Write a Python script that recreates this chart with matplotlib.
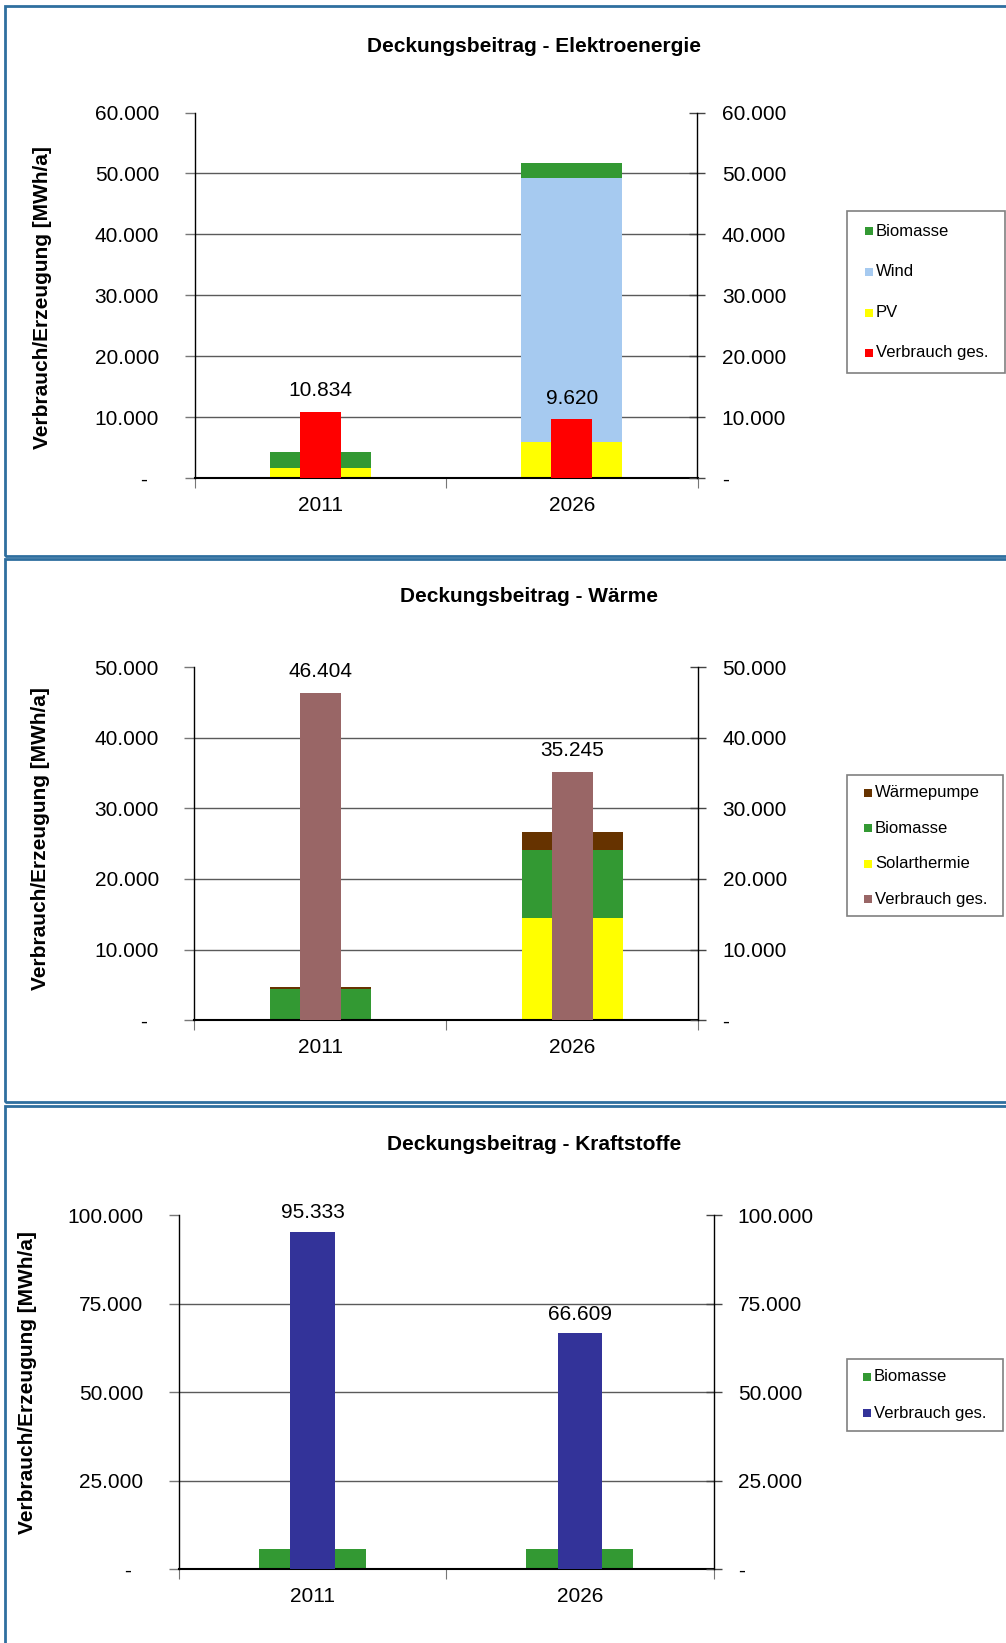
import numpy as np
import matplotlib
matplotlib.use("Agg")
import matplotlib.pyplot as plt
from matplotlib.patches import Rectangle

plt.rcParams['font.family'] = ['Liberation Sans', 'DejaVu Sans']

W, H = 1006, 1643

years = ['2011', '2026']

# Elektroenergie [MWh/a]
strom_pv = [1700, 5900]
strom_wind = [0, 43400]
strom_bio = [2500, 2400]
strom_verbrauch = [10834, 9620]

# Waerme [MWh/a]
waerme_solar = [0, 14400]
waerme_bio = [4400, 9700]
waerme_wp = [240, 2500]
waerme_verbrauch = [46404, 35245]

# Kraftstoffe [MWh/a]
kraft_bio = [5600, 5600]
kraft_verbrauch = [95333, 66609]

c_bio = '#339933'
c_wind = '#a6caf0'
c_pv = '#ffff00'
c_wp = '#663300'
c_red = '#ff0000'
c_waerme = '#996666'
c_kraft = '#333399'
frame_col = '#2f6f9f'

WIDE = 0.40
NARROW = 0.165


def fx(x):
    return x / W


def fy(y):
    return 1 - y / H


def de(v):
    return f"{v:,.0f}".replace(',', '.')


def make_axes(fig, left, right, top, bottom, ymax, step):
    ax = fig.add_axes([fx(left), fy(bottom), (right - left) / W, (bottom - top) / H])
    ticks = np.arange(0, ymax + 1, step)
    ax.set_xlim(-0.5, 1.5)
    ax.set_ylim(0, ymax)
    ax.spines['top'].set_visible(False)
    ax.spines['right'].set_visible(False)
    ax.spines['left'].set_linewidth(1.0)
    ax.spines['bottom'].set_linewidth(1.5)

    ax.hlines(ticks[1:-1], -0.5, 1.5, color='#5a5a5a', lw=1.0, zorder=0)

    ax.set_yticks(ticks)
    ax.set_yticklabels(['-  '] + [de(t) for t in ticks[1:]])
    ax.tick_params(axis='y', direction='out', length=7, width=1, color='#777777',
                   labelsize=15, pad=18.5)

    ax2 = ax.twinx()
    ax2.set_ylim(0, ymax)
    ax2.set_yticks(ticks)
    ax2.set_yticklabels(['-'] + [de(t) for t in ticks[1:]])
    ax2.tick_params(axis='y', direction='inout', length=12, width=1, color='#444444',
                    labelsize=15, pad=11.5)
    for s in ['top', 'left', 'bottom']:
        ax2.spines[s].set_visible(False)
    ax2.spines['right'].set_linewidth(1.0)

    ax.set_xticks([-0.5, 0.5, 1.5])
    ax.set_xticklabels([])
    ax.tick_params(axis='x', which='major', direction='out', length=7, color='#777777')
    ax.set_xticks([0, 1], minor=True)
    ax.set_xticklabels(years, minor=True)
    ax.tick_params(axis='x', which='minor', length=0, labelsize=15, pad=13)
    return ax


def value_labels(ax, x, vals, off):
    for xi, v in zip(x, vals):
        ax.annotate(de(v), (xi, v), xytext=(0, off), textcoords='offset points',
                    ha='center', va='bottom', fontsize=15)


def legend_box(fig, x0, y0, x1, y1, items, rows, mx):
    fig.add_artist(Rectangle((fx(x0), fy(y1)), (x1 - x0) / W, (y1 - y0) / H,
                             transform=fig.transFigure, facecolor='white',
                             edgecolor='#808080', lw=1.2))
    for (label, col), y in zip(items, rows):
        fig.add_artist(Rectangle((fx(mx), fy(y + 4)), 8 / W, 8 / H,
                                 transform=fig.transFigure, facecolor=col, lw=0))
        fig.text(fx(mx + 11), fy(y), label, fontsize=12, ha='left', va='center')


def frame(fig, x0, y0, x1, y1):
    fig.add_artist(Rectangle((fx(x0), fy(y1)), (x1 - x0) / W, (y1 - y0) / H,
                             transform=fig.transFigure, fill=False,
                             edgecolor=frame_col, lw=2.0))


fig = plt.figure(figsize=(W / 100, H / 100), dpi=100)
x = np.arange(len(years))

frame(fig, 5, 6, 1015, 556)
frame(fig, 5, 559, 1015, 1102)
frame(fig, 5, 1106, 1015, 1660)

# Elektroenergie
ax = make_axes(fig, 194.5, 697.5, 112.5, 478, 60000, 10000)
pv = np.array(strom_pv)
wind = np.array(strom_wind)
ax.bar(x, pv, WIDE, color=c_pv, zorder=2)
ax.bar(x, wind, WIDE, bottom=pv, color=c_wind, zorder=2)
ax.bar(x, strom_bio, WIDE, bottom=pv + wind, color=c_bio, zorder=2)
ax.bar(x, strom_verbrauch, NARROW, color=c_red, zorder=3)
value_labels(ax, x, strom_verbrauch, 8.5)
fig.text(fx(534), fy(46), 'Deckungsbeitrag - Elektroenergie', fontsize=15,
         fontweight='bold', ha='center', va='center')
fig.text(fx(43), fy(298), 'Verbrauch/Erzeugung [MWh/a]', fontsize=15,
         fontweight='bold', rotation=90, ha='center', va='center')
legend_box(fig, 847, 211, 1005, 373,
           [('Biomasse', c_bio), ('Wind', c_wind), ('PV', c_pv),
            ('Verbrauch ges.', c_red)],
           [231, 271.5, 312.5, 353], 865)

# Waerme
ax = make_axes(fig, 194.3, 698.3, 667.5, 1020, 50000, 10000)
solar = np.array(waerme_solar)
bio = np.array(waerme_bio)
ax.bar(x, solar, WIDE, color=c_pv, zorder=2)
ax.bar(x, bio, WIDE, bottom=solar, color=c_bio, zorder=2)
ax.bar(x, waerme_wp, WIDE, bottom=solar + bio, color=c_wp, zorder=2)
ax.bar(x, waerme_verbrauch, NARROW, color=c_waerme, zorder=3)
value_labels(ax, x, waerme_verbrauch, 8.5)
fig.text(fx(529), fy(596.5), 'Deckungsbeitrag - Wärme', fontsize=15,
         fontweight='bold', ha='center', va='center')
fig.text(fx(41), fy(838.5), 'Verbrauch/Erzeugung [MWh/a]', fontsize=15,
         fontweight='bold', rotation=90, ha='center', va='center')
legend_box(fig, 847, 775, 1003, 916,
           [('Wärmepumpe', c_wp), ('Biomasse', c_bio), ('Solarthermie', c_pv),
            ('Verbrauch ges.', c_waerme)],
           [792.5, 828.3, 864, 899.3], 864)

# Kraftstoffe
ax = make_axes(fig, 178.8, 713.5, 1215.3, 1569.2, 100000, 25000)
ax.bar(x, kraft_bio, WIDE, color=c_bio, zorder=2)
ax.bar(x, kraft_verbrauch, NARROW, color=c_kraft, zorder=3)
value_labels(ax, x, kraft_verbrauch, 7)
fig.text(fx(534), fy(1144.5), 'Deckungsbeitrag - Kraftstoffe', fontsize=15,
         fontweight='bold', ha='center', va='center')
fig.text(fx(28), fy(1383), 'Verbrauch/Erzeugung [MWh/a]', fontsize=15,
         fontweight='bold', rotation=90, ha='center', va='center')
legend_box(fig, 847, 1359, 1003, 1431,
           [('Biomasse', c_bio), ('Verbrauch ges.', c_kraft)],
           [1376.7, 1413.3], 863)

fig.savefig('out.png', dpi=100)
